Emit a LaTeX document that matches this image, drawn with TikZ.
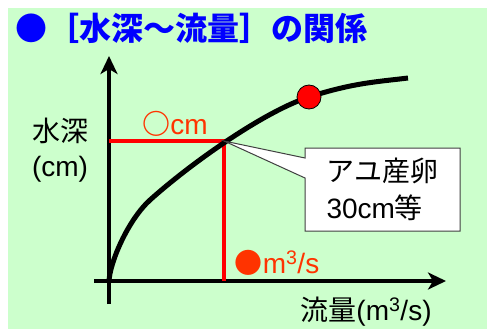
\documentclass[tikz,border=0pt]{standalone}
\usepackage{fontspec}
\setmainfont{Liberation Sans}
\newfontfamily\jp{Noto Sans CJK JP}
\usetikzlibrary{arrows.meta,shapes.callouts}
\definecolor{bgreen}{RGB}{204,255,204}
\definecolor{lred}{RGB}{255,51,0}

\begin{document}
\begin{tikzpicture}[x=1pt,y=1pt,yscale=-1,xscale=1,
  axis/.style={line width=3.2pt,-{Stealth[length=18pt,width=17pt,inset=5pt]}},
  guide/.style={color=red,line width=3.5pt},
  lbl/.style={inner sep=0pt,font=\fontsize{28}{35}\selectfont},
  ]
\useasboundingbox (0,0) rectangle (487,329);
%Shape: Rectangle
\fill [white] (0,0) rectangle (487,329);
\fill [bgreen] (8,8) rectangle (487,329);

% Text Node
\node (title) [anchor=west,inner sep=0pt,text=blue,font=\jp\bfseries\fontsize{32}{36}\selectfont] at (15,28) {●［水深～流量］の関係};

\coordinate (O) at (109,281);
\coordinate (ytop) at (109,56);
\coordinate (ybot) at (109,304);
\coordinate (xleft) at (94,281);
\coordinate (xright) at (446,281);
\coordinate (P) at (224,141);

%Straight Lines
\draw [axis] (ybot) -- (ytop);
\draw [axis] (xleft) -- (xright);
%Straight Lines
\draw [guide] (O |- P) -- (P) -- (P |- O);
%Curve Lines
\draw [line width=5pt] (O) .. controls (110,262) and (128,220) .. (150,200) .. controls (190,164) and (264,111.4) .. (309,97) .. controls (354,82.6) and (378,81.75) .. (408,78);
%Shape: Circle
\node (dot) [circle,fill=red,draw=black,line width=0.8pt,minimum size=24pt,inner sep=0pt] at (309,97) {};

% Text Node
\node (note) [rectangle callout,callout absolute pointer={(P)},callout pointer width=20pt,fill=white,draw=black!75,line width=1pt,minimum width=155pt,minimum height=83pt,inner sep=0pt,align=left,font=\fontsize{28}{37}\selectfont] at (382.5,189.5) {{\jp アユ産卵}\\30cm{\jp 等}};
% Text Node
\node (depth) [lbl,align=center] at (60,150) {{\jp 水深}\\(cm)};
% Text Node
\node (cmval) [lbl,text=lred] at (175,124) {{\jp\bfseries ○}cm};
% Text Node
\node (qval) [lbl,text=lred] at (277,263) {{\jp ●}m\textsuperscript{3}/s};
% Text Node
\node (flow) [lbl] at (366,312) {{\jp 流量}(m\textsuperscript{3}/s)};

\end{tikzpicture}
\end{document}
